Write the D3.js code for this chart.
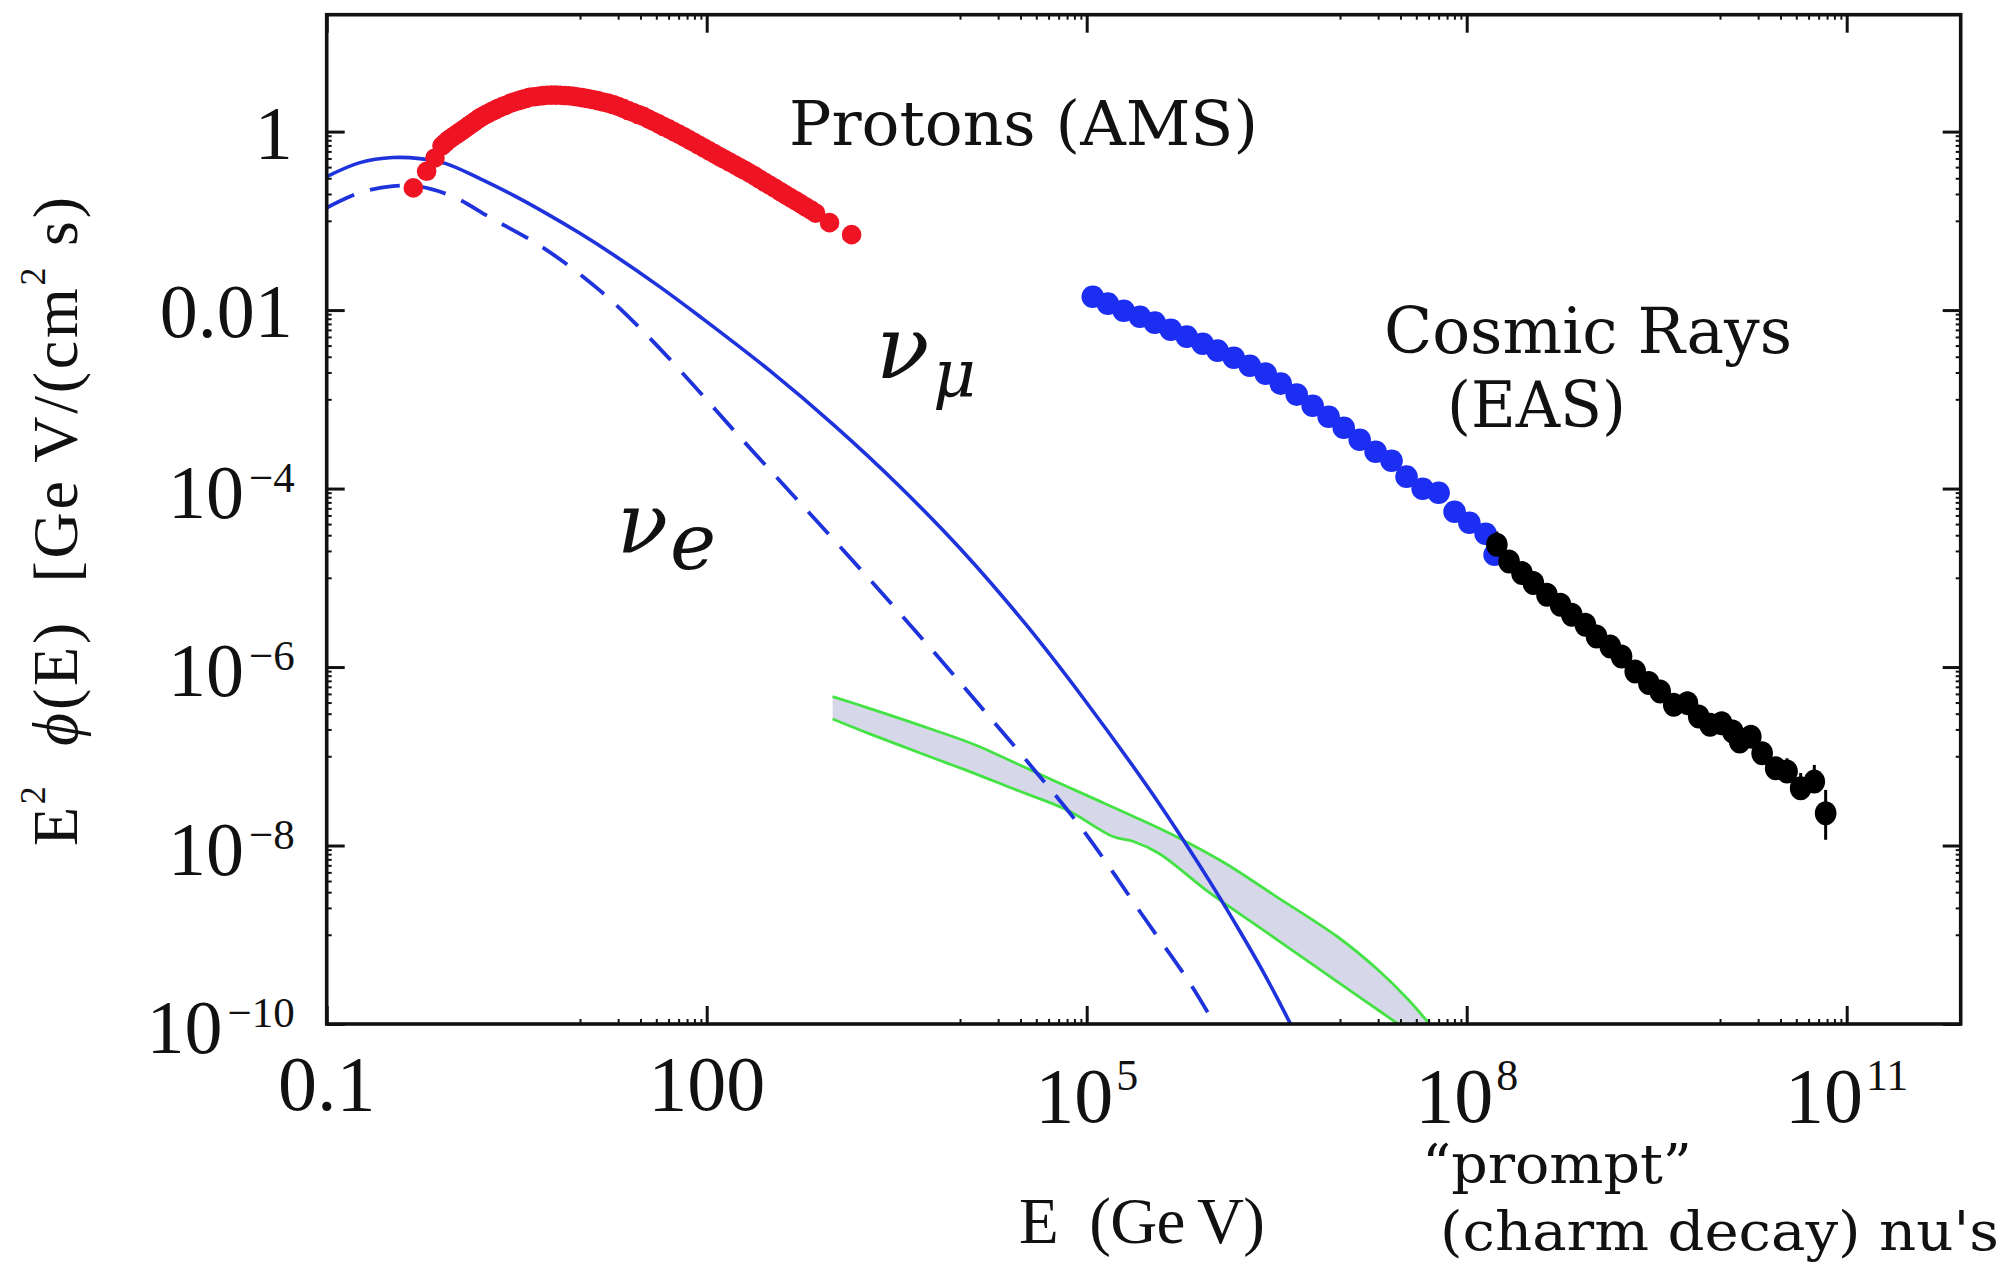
<!DOCTYPE html>
<html><head><meta charset="utf-8">
<script src="https://cdn.jsdelivr.net/npm/d3@7"></script>
<style>html,body{margin:0;padding:0;background:#fff;} svg{display:block;}</style>
</head><body>
<svg id="chart" width="2011" height="1263"></svg>
<script>
// ---------------- DATA ----------------
// Protons (AMS), red points
const protonE = [0.483,0.615,0.716,0.813,0.861,0.912,0.966,1.023,1.084,1.148,1.216,1.288,1.365,1.445,1.531,1.622,1.718,1.820,1.928,2.042,2.163,2.291,2.455,2.630,2.818,3.020,3.236,3.467,3.715,3.981,4.315,4.677,5.070,5.495,5.957,6.457,6.998,7.586,8.222,8.913,9.661,10.47,11.48,12.59,13.80,15.14,16.60,18.20,19.95,21.88,23.99,26.30,28.84,31.62,34.67,38.02,41.69,45.71,50.12,54.95,60.26,66.07,72.44,79.43,87.10,95.50,104.7,114.8,125.9,138.0,151.4,166.0,182.0,199.5,218.8,239.9,263.0,288.4,316.2,346.7,380.2,416.9,457.1,501.2,549.5,602.6,660.7,724.4,933,1393];
const protonF = [0.234,0.359,0.507,0.692,0.745,0.804,0.851,0.90,0.953,1.01,1.069,1.13,1.20,1.27,1.346,1.43,1.493,1.56,1.629,1.70,1.770,1.84,1.919,1.99,2.075,2.15,2.218,2.28,2.350,2.42,2.460,2.49,2.529,2.55,2.564,2.56,2.559,2.54,2.518,2.48,2.443,2.40,2.350,2.29,2.223,2.15,2.084,2.01,1.919,1.82,1.726,1.64,1.556,1.48,1.387,1.30,1.222,1.14,1.072,1.00,0.936,0.875,0.813,0.757,0.703,0.655,0.608,0.566,0.526,0.490,0.456,0.426,0.396,0.369,0.342,0.317,0.292,0.270,0.250,0.231,0.213,0.197,0.182,0.169,0.156,0.144,0.133,0.122,0.0955,0.070];

// Atmospheric nu_mu (solid) and nu_e (dashed)
const numuE = [0.1,0.183,0.333,0.545,0.875,1.62,2.96,5.49,9.98,18.2,42.7,88.3,315,1010,3236,1.04e4,3.31e4,9.31e4,3.09e5,5.43e5,9.36e5,1.64e6,2.37e6,3.14e6,3.94e6,4.81e6];
const numuF = [0.313,0.449,0.512,0.498,0.438,0.297,0.194,0.1197,0.0725,0.042,0.0182,0.00847,0.002094,5.14e-4,1.104e-4,2.01e-5,3.0e-6,4.56e-7,4.35e-8,1.32e-8,3.96e-9,1.06e-9,4.28e-10,2.04e-10,1.09e-10,6.3e-11];
const nueE = [0.1,0.183,0.333,0.545,0.993,1.95,5.1,14.4,35.6,88.3,170,545,1945,6000,1.46e4,3.69e4,9.31e4,2.82e5,6.52e5,1.03e6];
const nueF = [0.14,0.207,0.245,0.242,0.187,0.109,0.0501,0.0165,0.00484,0.0012,4.23e-4,6.93e-5,9.5e-6,1.56e-6,3.58e-7,7.6e-8,1.5e-8,1.58e-9,2.88e-10,9.8e-11];

// "prompt" (charm decay) band: upper and lower edges
const promptUpE = [986,1871,5728,1.32e4,3.66e4,1.02e5,2.34e5,5.39e5,1.24e6,3.14e6,9.55e6,2.0e7,3.48e7,5.3e7];
const promptUpF = [4.67e-7,3.49e-7,2.05e-7,1.34e-7,6.95e-8,3.6e-8,2.12e-8,1.21e-8,6.34e-9,2.68e-9,9.5e-10,4.03e-10,1.86e-10,9.3e-11];
const promptLoE = [986,1871,5728,1.1e4,2.77e4,7.0e4,1.61e5,2.34e5,3.7e5,9.37e5,2.37e6,5.98e6,1.51e7,3.24e7];
const promptLoF = [2.62e-7,1.82e-7,9.93e-8,7.05e-8,4.2e-8,2.5e-8,1.26e-8,1.11e-8,8.2e-9,2.94e-9,1.18e-9,4.72e-10,1.89e-10,8.9e-11];

// Cosmic rays (EAS), blue points
const easE = [1.117e5,1.47e5,1.96e5,2.63e5,3.45e5,4.61e5,6.17e5,8.24e5,1.08e6,1.45e6,1.94e6,2.59e6,3.4e6,4.55e6,6.08e6,8.13e6,1.07e7,1.43e7,1.91e7,2.55e7,3.35e7,4.49e7,6.0e7,8.02e7,1.05e8,1.41e8,1.66e8];
const easF = [0.01413,0.0118,0.00984,0.00843,0.00723,0.00603,0.00504,0.0042,0.00351,0.00292,0.00238,0.00194,0.0015,0.00113,8.47e-4,6.38e-4,4.81e-4,3.52e-4,2.59e-4,2.05e-4,1.36e-4,9.95e-5,8.97e-5,5.5e-5,4.14e-5,3.11e-5,1.81e-5];

// Cosmic rays, highest energies, black points (+ error bars)
const crE = [1.73e8,2.16e8,2.73e8,3.36e8,4.3e8,5.5e8,6.76e8,8.65e8,1.06e9,1.36e9,1.67e9,2.14e9,2.74e9,3.37e9,4.31e9,5.53e9,6.79e9,8.34e9,1.03e10,1.26e10,1.43e10,1.75e10,2.15e10,2.75e10,3.38e10,4.33e10,5.55e10,6.82e10];
const crF = [2.34e-5,1.52e-5,1.13e-5,8.73e-6,6.44e-6,4.98e-6,3.85e-6,2.97e-6,2.2e-6,1.7e-6,1.31e-6,8.91e-7,6.61e-7,5.31e-7,3.77e-7,3.94e-7,2.79e-7,2.25e-7,2.35e-7,1.89e-7,1.46e-7,1.66e-7,1.08e-7,7.36e-8,6.75e-8,4.39e-8,5.2e-8,2.3e-8];
const crErrHi = [3.3e-5,null,null,null,null,null,null,null,null,null,null,null,null,null,null,null,null,null,null,null,null,null,null,null,9.5e-8,6.5e-8,8.0e-8,4.2e-8];
const crErrLo = [1.9e-5,null,null,null,null,null,null,null,null,null,null,null,null,null,null,null,null,null,null,null,null,null,null,null,5.5e-8,3.6e-8,4.3e-8,1.16e-8];

// Ticks
const xMajor = [0.1,100,1e5,1e8,1e11];
const xTickLabels = ["0.1","100","10^5","10^8","10^11"];
const yMajor = [1,1e-2,1e-4,1e-6,1e-8,1e-10];
const yTickLabels = ["1","0.01","10^\u22124","10^\u22126","10^\u22128","10^\u221210"];

// ---------------- LAYOUT ----------------
const W = 2011, H = 1263;
const m = {left:326.7, right:1960.7, top:14.7, bottom:1024};
const x = d3.scaleLog().domain([0.1, Math.pow(10, 11.9)]).range([m.left, m.right]);
const y = d3.scaleLog().domain([1e-10, Math.pow(10, 1.31)]).range([m.bottom, m.top]);

const C = {red:"#ef1423", blue:"#1c2ef2", line:"#1f33dc", green:"#45e245", band:"#d7d7ea", ink:"#111"};
const svg = d3.select("#chart");
svg.append("rect").attr("width", W).attr("height", H).attr("fill", "#fff");
svg.append("defs").append("clipPath").attr("id","clip").append("rect")
  .attr("x", m.left).attr("y", m.top).attr("width", m.right - m.left).attr("height", m.bottom - m.top);
const plot = svg.append("g").attr("clip-path", "url(#clip)");

const zip = (E, F) => E.map((e, i) => ({e, f: F[i]}));
const line = d3.line().x(d => x(d.e)).y(d => y(d.f)).curve(d3.curveCatmullRom.alpha(0.5));

// prompt band
const up = zip(promptUpE, promptUpF), lo = zip(promptLoE, promptLoF);
const bandPath = line(up) + "L" + line(lo.slice().reverse()).slice(1) + "Z";
plot.append("path").attr("d", bandPath).attr("fill", C.band).attr("stroke", "none");
[up, lo].forEach(s => plot.append("path").attr("d", line(s)).attr("fill","none")
  .attr("stroke", C.green).attr("stroke-width", 2.8));

// red proton points
svg.append("g").selectAll("circle").data(zip(protonE, protonF)).join("circle")
  .attr("cx", d => x(d.e)).attr("cy", d => y(d.f)).attr("r", 9.8).attr("fill", C.red);

// neutrino curves
plot.append("path").attr("d", line(zip(numuE, numuF))).attr("fill","none")
  .attr("stroke", C.line).attr("stroke-width", 3.6);
plot.append("path").attr("d", line(zip(nueE, nueF))).attr("fill","none")
  .attr("stroke", C.line).attr("stroke-width", 3.8).attr("stroke-dasharray", "30,17");

// EAS blue points
svg.append("g").selectAll("circle").data(zip(easE, easF)).join("circle")
  .attr("cx", d => x(d.e)).attr("cy", d => y(d.f)).attr("r", 11.3).attr("fill", C.blue);

// black points + error bars
const crData = crE.map((e, i) => ({e, f: crF[i], hi: crErrHi[i], lo: crErrLo[i]}));
svg.append("g").selectAll("line").data(crData.filter(d => d.hi !== null)).join("line")
  .attr("x1", d => x(d.e)).attr("x2", d => x(d.e))
  .attr("y1", d => y(d.hi)).attr("y2", d => y(d.lo))
  .attr("stroke", "#000").attr("stroke-width", 3);
svg.append("g").selectAll("ellipse").data(crData).join("ellipse")
  .attr("cx", d => x(d.e)).attr("cy", d => y(d.f)).attr("rx", 10.8).attr("ry", 12).attr("fill", "#000");

// ---------------- AXES / FRAME ----------------
const minorOf = (majors, dom) => majors.flatMap(v => d3.range(1, 10).map(k => k * v / 10))
  .filter(v => v >= Math.min(...dom) && v <= Math.max(...dom));
const xMinor = minorOf(xMajor, x.domain());
const yMinor = minorOf(yMajor, y.domain());

function drawAxis(gen, tr, vals, size, sw) {
  const g = svg.append("g").attr("transform", tr)
    .call(gen.tickValues(vals).tickSize(-size).tickSizeOuter(0).tickFormat(() => ""));
  g.select(".domain").remove();
  g.selectAll(".tick line").attr("stroke", C.ink).attr("stroke-width", sw);
}
drawAxis(d3.axisBottom(x), `translate(0,${m.bottom})`, xMajor, 18, 3);
drawAxis(d3.axisTop(x), `translate(0,${m.top})`, xMajor, 18, 3);
drawAxis(d3.axisBottom(x), `translate(0,${m.bottom})`, xMinor, 5, 2);
drawAxis(d3.axisTop(x), `translate(0,${m.top})`, xMinor, 5, 2);
drawAxis(d3.axisLeft(y), `translate(${m.left},0)`, yMajor, 18, 3);
drawAxis(d3.axisRight(y), `translate(${m.right},0)`, yMajor, 18, 3);
drawAxis(d3.axisLeft(y), `translate(${m.left},0)`, yMinor, 5, 2);
drawAxis(d3.axisRight(y), `translate(${m.right},0)`, yMinor, 5, 2);

svg.append("rect").attr("x", m.left).attr("y", m.top)
  .attr("width", m.right - m.left).attr("height", m.bottom - m.top)
  .attr("fill", "none").attr("stroke", C.ink).attr("stroke-width", 3.6);

// tick labels
const serif = "'Liberation Serif','Times New Roman',serif";
const xl = svg.append("g").attr("font-family", serif).attr("fill", "#111");
xMajor.forEach((v, i) => {
  const s = xTickLabels[i];
  if (s.includes("^")) {
    const [b, e] = s.split("^");
    const t = xl.append("text").attr("x", x(v)).attr("y", m.bottom + 98)
      .attr("text-anchor", "middle").attr("font-size", 78);
    t.append("tspan").text(b);
    t.append("tspan").attr("dy", -32).attr("dx", 3).attr("font-size", 44).text(e);
  } else {
    xl.append("text").attr("x", x(v)).attr("y", m.bottom + 86)
      .attr("text-anchor", "middle").attr("font-size", 78).text(s);
  }
});
const yl = svg.append("g").attr("font-family", serif).attr("fill", "#111");
yMajor.forEach((v, i) => {
  const s = yTickLabels[i];
  if (s.includes("^")) {
    const [b, e] = s.split("^");
    const t = yl.append("text").attr("x", m.left - 32).attr("y", y(v) + 29)
      .attr("text-anchor", "end").attr("font-size", 76);
    t.append("tspan").text(b);
    t.append("tspan").attr("dy", -26).attr("dx", 5).attr("font-size", 43).text(e);
  } else {
    yl.append("text").attr("x", m.left - 34).attr("y", y(v) + 27)
      .attr("text-anchor", "end").attr("font-size", 76).text(s);
  }
});

// axis titles
const yt = svg.append("text").attr("transform", "translate(77,846) rotate(-90)")
  .attr("font-family", serif).attr("font-size", 64).attr("fill", "#111")
  .attr("textLength", 649).attr("lengthAdjust", "spacing");
yt.append("tspan").text("E");
yt.append("tspan").attr("dy", -32).attr("font-size", 36).text("2");
yt.append("tspan").attr("dy", 32).text("\u00a0\u00a0");
yt.append("tspan").attr("font-style", "italic").text("\u03d5");
yt.append("tspan").text("(E)\u00a0\u00a0[Ge\u2009V/(cm");
yt.append("tspan").attr("dy", -32).attr("font-size", 36).text("2");
yt.append("tspan").attr("dy", 32).text("\u00a0s)");

svg.append("text").attr("x", 1019).attr("y", 1243)
  .attr("font-family", serif).attr("font-size", 65).attr("fill", "#111")
  .attr("textLength", 246).attr("lengthAdjust", "spacing")
  .text("E\u00a0\u00a0(Ge\u2009V)");

// annotations
const cond = "'DejaVu Serif Condensed','DejaVu Serif',serif";
function note(txt, xx, yy, size, len) {
  svg.append("text").attr("x", xx).attr("y", yy).attr("font-family", cond)
    .attr("font-stretch", "condensed").attr("font-size", size).attr("fill", "#111")
    .attr("textLength", len).attr("lengthAdjust", "spacingAndGlyphs").text(txt);
}
note("Protons (AMS)", 789, 145, 62, 469);
note("Cosmic Rays", 1384, 353, 63, 408);
note("(EAS)", 1447, 427, 63, 179);
note("\u201cprompt\u201d", 1422, 1183, 54, 270);
note("(charm decay) nu's", 1440, 1250, 54, 559);

// neutrino labels
const it = svg.append("g").attr("font-family", "'DejaVu Serif',serif").attr("font-style", "italic").attr("fill", "#111");
const numuLbl = it.append("text").attr("x", 876).attr("y", 378).attr("font-size", 88);
numuLbl.append("tspan").text("\u03bd");
numuLbl.append("tspan").attr("x", 933).attr("y", 396).attr("font-size", 66).text("\u03bc");
const nueLbl = it.append("text").attr("x", 617).attr("y", 552).attr("font-size", 84);
nueLbl.append("tspan").text("\u03bd");
nueLbl.append("tspan").attr("x", 670).attr("y", 569).attr("font-size", 78).text("e");
</script>
</body></html>
